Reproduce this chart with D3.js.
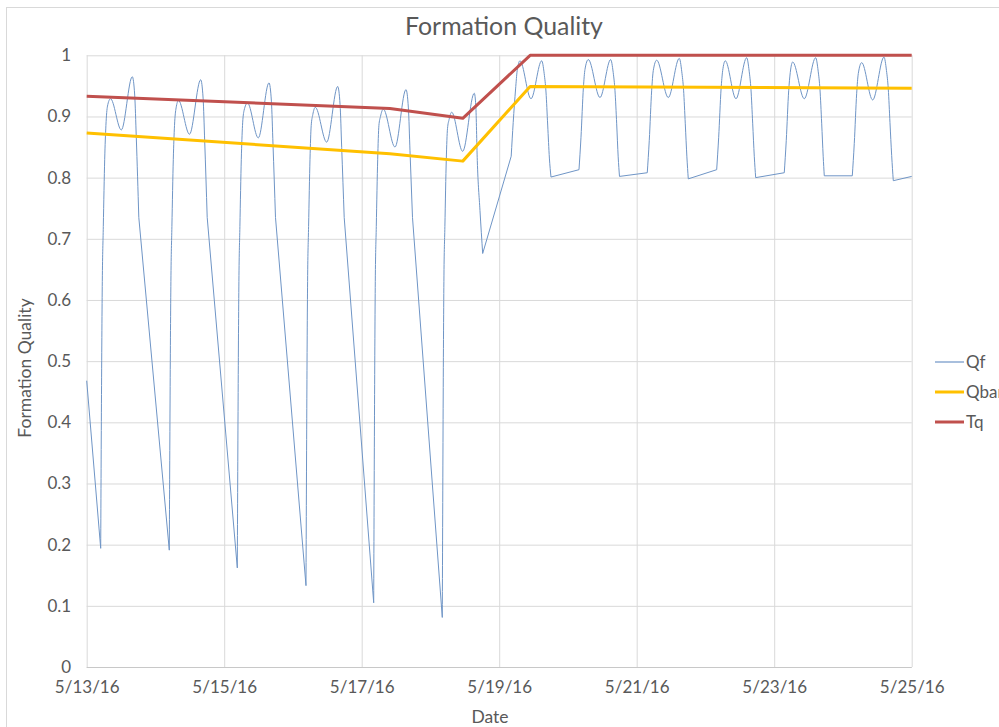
<!DOCTYPE html>
<html>
<head>
<meta charset="utf-8">
<script src="https://cdn.jsdelivr.net/npm/d3@7"></script>
<style>
  html, body { margin: 0; padding: 0; background: #fff; overflow: hidden; }
  text { font-family: Lato, "Open Sans", sans-serif; fill: #595959; }
</style>
</head>
<body>
<script>
// ---------------- DATA ----------------
const chartTitle = "Formation Quality";
const yAxisTitle = "Formation Quality";
const xAxisTitle = "Date";
const startDay = "2016-05-13";
const endDay = "2016-05-25";
const xTickDates = ["2016-05-13","2016-05-15","2016-05-17","2016-05-19","2016-05-21","2016-05-23","2016-05-25"];
const xTickLabels = ["5/13/16","5/15/16","5/17/16","5/19/16","5/21/16","5/23/16","5/25/16"];
const yTickValues = [0,0.1,0.2,0.3,0.4,0.5,0.6,0.7,0.8,0.9,1];
const yTickLabels = ["0","0.1","0.2","0.3","0.4","0.5","0.6","0.7","0.8","0.9","1"];
const seriesNames = ["Qf","Qbar","Tq"];

// Qf: time in days since 5/13/16 00:00, and value
const qfDays = [
  0,
  0.2036,0.2269,0.2415,0.2618,0.2793,0.3025,0.3462,0.5033,0.6633,0.6982,0.7215,0.7578,
  1.2014,1.2247,1.2393,1.2596,1.2771,1.3003,1.3352,1.4952,1.6581,1.6931,1.7163,1.7526,
  2.1905,2.2138,2.2283,2.2487,2.2662,2.2894,2.3388,2.4959,2.6516,2.6865,2.7097,2.7461,
  3.1897,3.2130,3.2275,3.2479,3.2654,3.2886,3.3250,3.4908,3.6508,3.6857,3.7090,3.7453,
  4.1744,4.1977,4.2122,4.2326,4.2500,4.2733,4.3140,4.4842,4.6442,4.6791,4.7024,4.7387,
  5.1722,5.1955,5.2100,5.2304,5.2479,5.2711,5.3089,5.4689,5.6376,5.6595,5.6813,5.7206,5.7598,
  6.1745,6.2035,6.2384,6.2617,6.3024,6.4624,6.6180,6.6544,6.6806,6.7053,6.7300,6.7533,
  7.1606,7.1896,7.2245,7.2478,7.2958,7.4660,7.6216,7.6580,7.6842,7.7089,7.7307,7.7496,
  8.1539,8.1830,8.2179,8.2412,8.2907,8.4594,8.6194,8.6558,8.6820,8.7067,8.7300,8.7503,
  9.1634,9.1924,9.2273,9.2506,9.2884,9.4440,9.5997,9.6360,9.6622,9.6870,9.7102,9.7306,
  10.1466,10.1756,10.2106,10.2339,10.2688,10.4375,10.6033,10.6397,10.6659,10.6906,10.7124,10.7284,
  11.1358,11.1648,11.1997,11.2230,11.2724,11.4324,11.5968,11.6331,11.6593,11.6840,11.7088,11.7321,
  12.0
];
const qfValues = [
  0.468,
  0.194,0.63,0.72,0.83,0.885,0.917,0.929,0.878,0.965,0.935,0.865,0.735,
  0.191,0.63,0.72,0.83,0.885,0.914,0.926,0.871,0.960,0.930,0.860,0.735,
  0.162,0.63,0.72,0.83,0.885,0.910,0.922,0.865,0.955,0.925,0.855,0.735,
  0.133,0.63,0.72,0.83,0.885,0.903,0.915,0.858,0.949,0.919,0.849,0.735,
  0.105,0.63,0.72,0.83,0.885,0.900,0.912,0.850,0.944,0.914,0.844,0.735,
  0.081,0.63,0.72,0.83,0.880,0.895,0.907,0.843,0.938,0.918,0.828,0.746,0.676,
  0.835,0.890,0.945,0.975,0.991,0.929,0.991,0.970,0.940,0.886,0.832,0.801,
  0.813,0.866,0.947,0.977,0.993,0.931,0.993,0.972,0.942,0.888,0.834,0.802,
  0.808,0.861,0.943,0.975,0.992,0.931,0.995,0.973,0.943,0.888,0.834,0.798,
  0.813,0.866,0.945,0.975,0.991,0.929,0.996,0.974,0.944,0.889,0.835,0.800,
  0.808,0.861,0.942,0.972,0.989,0.929,0.996,0.974,0.944,0.889,0.835,0.803,
  0.803,0.856,0.938,0.970,0.988,0.927,0.997,0.975,0.945,0.890,0.836,0.795,
  0.802
];
// Qbar and Tq: time in days since 5/13/16 00:00
const lineDays = [0, 4.41, 5.47, 6.45, 12.0];
const qbarValues = [0.873, 0.839, 0.827, 0.949, 0.946];
const tqValues = [0.933, 0.913, 0.897, 1.0, 1.0];
const seriesColors = ["#6F95C6", "#FFC000", "#C0504D"];

// ---------------- CHART ----------------
const W = 999, H = 727;
const plot = { left: 86.7, right: 911.7, top: 55.3, bottom: 667 };
const parse = d3.timeParse("%Y-%m-%d");
const t0 = parse(startDay), t1 = parse(endDay);
const dayMs = 86400000;
const toDate = d => new Date(t0.getTime() + d * dayMs);

const x = d3.scaleTime().domain([t0, t1]).range([plot.left, plot.right]);
const y = d3.scaleLinear().domain([0, 1]).range([plot.bottom, plot.top]);

const svg = d3.select("body").append("svg").attr("width", W).attr("height", H);

// outer chart border
svg.append("rect").attr("x", 6.5).attr("y", 7.5).attr("width", 1200).attr("height", 900)
  .attr("fill", "none").attr("stroke", "#D9D9D9");

const tickFont = "17px";

// y axis + horizontal gridlines
const yAxis = d3.axisLeft(y)
  .tickValues(yTickValues)
  .tickFormat((d, i) => yTickLabels[i])
  .tickSize(-(plot.right - plot.left))
  .tickPadding(15.5);
const gy = svg.append("g").attr("transform", `translate(${plot.left},0)`).call(yAxis);
gy.select(".domain").remove();
gy.selectAll(".tick line").attr("stroke", "#D9D9D9");
gy.selectAll(".tick text").style("font-size", tickFont).style("font-family", "Lato").attr("fill", "#595959");

// x axis + vertical gridlines
const xTickDateObjs = xTickDates.map(parse);
const xAxis = d3.axisBottom(x)
  .tickValues(xTickDateObjs)
  .tickFormat((d, i) => xTickLabels[i])
  .tickSize(-(plot.bottom - plot.top))
  .tickPadding(14);
const gx = svg.append("g").attr("transform", `translate(0,${plot.bottom})`).call(xAxis);
gx.select(".domain").remove();
gx.selectAll(".tick line").attr("stroke", "#D9D9D9");
gx.selectAll(".tick text").style("font-size", tickFont).style("font-family", "Lato").attr("fill", "#595959");

// bottom axis line
svg.append("line").attr("x1", plot.left).attr("x2", plot.right)
  .attr("y1", plot.bottom + 0.5).attr("y2", plot.bottom + 0.5)
  .attr("stroke", "#C8C8C8");

// series
const qfData = qfDays.map((d, i) => ({ day: d, date: toDate(d), v: qfValues[i] }));
const qbarData = lineDays.map((d, i) => ({ date: toDate(d), v: qbarValues[i] }));
const tqData = lineDays.map((d, i) => ({ date: toDate(d), v: tqValues[i] }));

const smooth = d3.line().x(d => x(d.date)).y(d => y(d.v)).curve(d3.curveMonotoneX);
const straight = d3.line().x(d => x(d.date)).y(d => y(d.v));

// Qf: dense runs are smoothed, long gaps between samples are straight segments
const runs = [];
let cur = [qfData[0]];
for (let i = 1; i < qfData.length; i++) {
  if (qfData[i].day - qfData[i - 1].day > 0.19) { runs.push(cur); cur = []; }
  cur.push(qfData[i]);
}
runs.push(cur);
const qfPath = runs.map((r, i) => {
  const p = r.length > 1 ? smooth(r) : `M${x(r[0].date)},${y(r[0].v)}`;
  return i === 0 ? p : "L" + p.slice(1);
}).join("");

svg.append("path").attr("d", qfPath).attr("fill", "none")
  .attr("stroke", seriesColors[0]).attr("stroke-width", 1).attr("stroke-linejoin", "round");
svg.append("path").attr("d", straight(qbarData)).attr("fill", "none")
  .attr("stroke", seriesColors[1]).attr("stroke-width", 3).attr("stroke-linejoin", "round");
svg.append("path").attr("d", straight(tqData)).attr("fill", "none")
  .attr("stroke", seriesColors[2]).attr("stroke-width", 3).attr("stroke-linejoin", "round");

// title
const title = svg.append("text").attr("x", 504).attr("y", 35).attr("text-anchor", "middle")
  .style("font-size", "21px").text(chartTitle);
const tw = title.node().getComputedTextLength();
title.style("font-size", (21 * 198 / tw) + "px");

// axis titles
svg.append("text").attr("x", 490).attr("y", 723).attr("text-anchor", "middle")
  .style("font-size", "17.5px").text(xAxisTitle);
svg.append("text").attr("transform", "translate(31,368) rotate(-90)").attr("text-anchor", "middle")
  .style("font-size", "17.5px").text(yAxisTitle);

// legend
const legend = svg.append("g");
seriesNames.forEach((name, i) => {
  const ly = 362 + i * 30;
  legend.append("line").attr("x1", 935).attr("x2", 964).attr("y1", ly).attr("y2", ly)
    .attr("stroke", seriesColors[i]).attr("stroke-width", i === 0 ? 1.2 : 3);
  legend.append("text").attr("x", 966).attr("y", ly + 6).style("font-size", "17px").text(name);
});
</script>
</body>
</html>
